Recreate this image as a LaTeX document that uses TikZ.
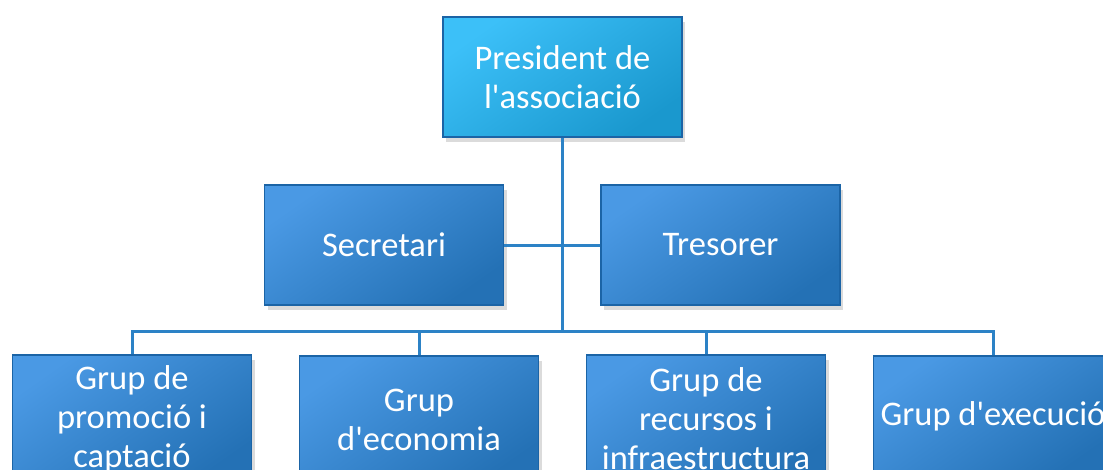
\documentclass[tikz,border=0pt]{standalone}
\usepackage{fontspec}
\setmainfont{Carlito}
\usetikzlibrary{shadows}
\definecolor{toplight}{HTML}{3CC0F8}
\definecolor{topdark}{HTML}{1A98CE}
\definecolor{boxlight}{HTML}{4A99E4}
\definecolor{boxdark}{HTML}{2471B5}
\definecolor{boxline}{HTML}{1B64A6}
\definecolor{connline}{HTML}{2C82C6}

\begin{document}
\begin{tikzpicture}[x=1pt,y=-1pt,
    unit/.style={draw=boxline, line width=1.5pt, text=white, align=center,
      minimum width=239pt, minimum height=120pt, inner sep=0pt,
      top color=boxlight, bottom color=boxdark, shading angle=35,
      font=\fontsize{34.5}{39}\selectfont,
      drop shadow={shadow xshift=3pt, shadow yshift=-5pt, opacity=.2, fill=black!70}},
    head/.style={unit, top color=toplight, bottom color=topdark, shading angle=35},
    conn/.style={draw=connline, line width=3pt}]
    \useasboundingbox (0,0) rectangle (1103,469);
    \clip (0,0) rectangle (1103,469);

    \node[head] (president) at (562.5,77) {President de\\l\textquotesingle associació};
    \node[unit] (secretari) at (384,245) {Secretari};
    \node[unit] (tresorer) at (720.5,245) {Tresorer};
    \node[unit, minimum height=128pt] (promocio) at (132,419) {Grup de\\promoció i\\captació};
    \node[unit, minimum height=128pt] (economia) at (419,420) {Grup\\d\textquotesingle economia};
    \node[unit, minimum height=128pt] (recursos) at (706,419) {Grup de\\recursos i\\infraestructura};
    \node[unit] (execucio) at (993,416) {Grup d\textquotesingle execució};
    \coordinate (bus) at (562.5,331);

    \draw[conn] (president.south) -- (bus);
    \draw[conn] (secretari.east) -- (secretari.east -| bus);
    \draw[conn] (tresorer.west) -- (tresorer.west -| bus);
    \foreach \grup in {promocio, economia, recursos, execucio}
      \draw[conn] (\grup.north) |- (bus);
  \end{tikzpicture}
\end{document}
